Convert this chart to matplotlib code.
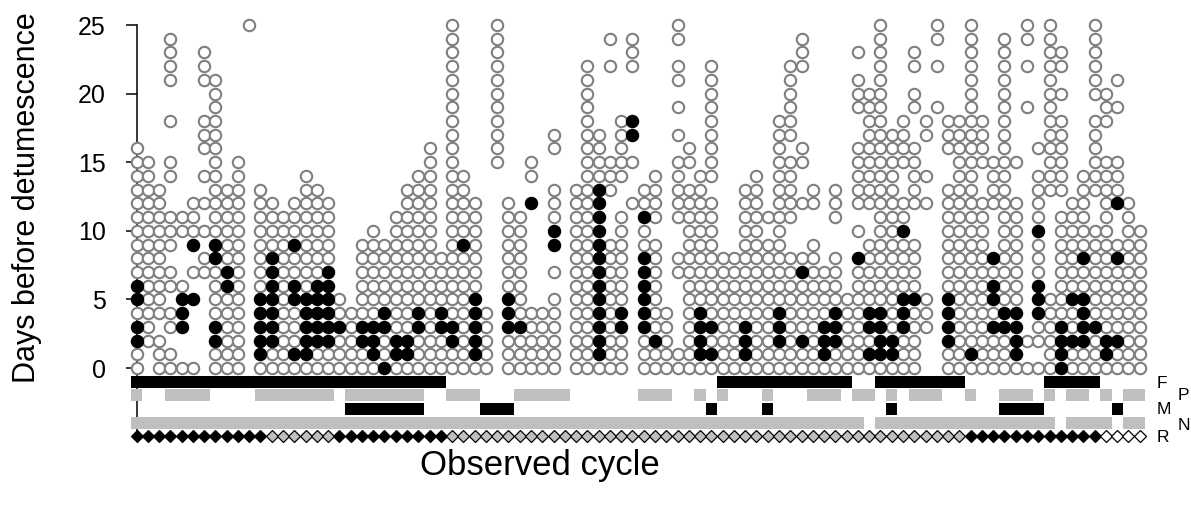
import matplotlib
matplotlib.use("Agg")
import matplotlib.pyplot as plt

plt.rcParams['font.family'] = ['Liberation Sans', 'DejaVu Sans']

# one entry per observed cycle (column), days written as "a-b" runs
grey_days = [
    "0-1,4,7-16", "2-15", "0-2,4-13", "0-1,3-4,6-7,9-11,14-15,18,21-24",
    "0,6,10-11", "0,7,10-12", "7-8,10,12,14,16-18,21-23", "0-1,4-7,10-21",
    "0-5,8-13", "0-15", "25", "0,6-13", "0-1,9-12", "0-11",
    "0,2-4,7-8,10-12", "0,6-14", "0-1,7-13", "0-1,8-12", "0-2,4-5", "0-4",
    "0-1,4-9", "0,4-10", "1-2,5-9", "0,3-11", "0,3-13", "0-2,5-14", "0-16",
    "0-2,5-8", "0-1,4-25", "0-8,10-14", "0,6-12", "0-4", "15-25",
    "0-2,6-12", "0-2,4-11", "0-4,14-15", "0-4", "0-5,7,11-13,16-17", "",
    "0-13", "0-22", "0,14-17", "0-9,13-15,22,24", "0-2,5-11,14-18",
    "12,15,22-24", "0-2,9-10,12-13", "0-1,3-9,11-14", "0-4",
    "0-1,7-8,11-15,17,19,21-22,24-25", "0-13,15-16", "0,5-14",
    "0,2,4-12,14-22", "0-8", "0-8", "0,4-13", "0-14", "0-9,11",
    "0-1,5-18", "0-8,11-15,17-22", "0-1,3-6,8,12,15-16,22-24", "0-9,12-13",
    "0,4-7", "0-1,5-8,11-13", "0-5", "0-7,10,12-16,19-21,23",
    "0,2,5-9,12-20", "0,5-25", "0,3-17", "0-2,6-9,11-12,15-18",
    "0-4,6-9,12-16,19-20,22-23", "3-5,12,14,17-18", "19,22,24-25",
    "0-1,6-13,16-18", "0-18", "0,2-25", "0-12,15-18", "0-2,4,7,12-15",
    "0-2,5-24", "0,5-12,15", "0,2,19,22,24-25", "0,2-3,7-9,11-14,16",
    "0-5,13-25", "4-11,13-18,20,22-23", "0-1,3-4,6-12", "0-1,6-7,9-14",
    "0-2,4-10,13-18,20-25", "0,3-15,18-20", "0-1,3-7,9,13-15,19,21",
    "0-12", "0-10",
]
black_days = [
    "2-3,5-6", "", "", "", "3-5", "5,9", "", "2-3,8-9", "6-7", "", "",
    "1-5", "2-8", "", "1,5-6,9", "1-5", "2-6", "2-7", "3", "", "2-3",
    "1-3", "0,3-4", "1-2", "1-2", "3-4", "", "3-4", "2-3", "9", "1-5", "",
    "", "3-5", "3", "12", "", "9-10", "", "", "", "1-13", "", "3-4",
    "17-18", "3-8,11", "2", "", "", "", "1-4", "1,3", "", "", "1-3", "",
    "", "2-4", "", "2,7", "", "1-3", "2-4", "", "8", "1,3-4", "1-4",
    "1-2", "3-5,10", "5", "", "", "2-5", "", "1", "", "3,5-6,8", "3-4",
    "1-4", "", "4-6,10", "", "0-3", "2,5", "2-5,8", "3", "1-2", "2,8,12",
    "", "",
]

# status rows under the plot, as (first cycle, last cycle) runs
F_runs = [(0, 27), (52, 63), (66, 73), (81, 85)]
P_runs = [(0, 0), (3, 6), (11, 17), (19, 25), (28, 30), (34, 38), (45, 47),
          (50, 50), (52, 52), (56, 56), (60, 62), (64, 65), (67, 67),
          (69, 71), (74, 74), (77, 79), (81, 81), (83, 84), (86, 86), (88, 89)]
M_runs = [(19, 25), (31, 33), (51, 51), (56, 56), (67, 67), (77, 80), (87, 87)]
N_runs = [(0, 64), (66, 81), (83, 86), (88, 89)]
R_black = [(0, 11), (18, 27), (74, 85)]
R_white = [(86, 89)]

y_ticks = [0, 5, 10, 15, 20, 25]


def parse(spec):
    out = []
    for part in spec.split(','):
        part = part.strip()
        if not part:
            continue
        if '-' in part:
            a, b = part.split('-')
            out.extend(range(int(a), int(b) + 1))
        else:
            out.append(int(part))
    return out


W, H = 1191, 515
fig = plt.figure(figsize=(W / 100, H / 100), dpi=100)
x0, x1 = 136.5, 1139.7
y_top, y_bot = 25.0, 436.6
ax = fig.add_axes([x0 / W, 1 - y_bot / H, (x1 - x0) / W, (y_bot - y_top) / H])
n = len(grey_days)
ax.set_xlim(0, n - 1)
ax.set_ylim(-5, 25)

gx, gy, bx, by = [], [], [], []
for i in range(n):
    for d in parse(grey_days[i]):
        gx.append(i)
        gy.append(d)
    for d in parse(black_days[i]):
        bx.append(i)
        by.append(d)

ax.plot(gx, gy, 'o', ms=8.2, mfc='white', mec='#7f7f7f', mew=1.5,
        ls='none', clip_on=False, zorder=3)
ax.plot(bx, by, 'o', ms=8.2, mfc='black', mec='black', mew=1.5,
        ls='none', clip_on=False, zorder=4)


def draw_runs(runs, y, color):
    for a, b in runs:
        ax.barh(y, b - a + 1, left=a - 0.5, height=0.88, color=color,
                lw=0, zorder=5, clip_on=False)


draw_runs(F_runs, -1, 'black')
draw_runs(P_runs, -2, '#bfbfbf')
draw_runs(M_runs, -3, 'black')
draw_runs(N_runs, -4, '#bfbfbf')

# diamonds: grey by default, black / white for marked runs
rcol = ['#bfbfbf'] * n
for a, b in R_black:
    for i in range(a, b + 1):
        rcol[i] = 'black'
for a, b in R_white:
    for i in range(a, b + 1):
        rcol[i] = 'white'
for i in range(n):
    ax.plot(i, -4.95, 'D', ms=6.0, mfc=rcol[i], mec='black', mew=0.9,
            clip_on=False, zorder=6)

for s in ['top', 'right', 'bottom']:
    ax.spines[s].set_visible(False)
ax.spines['left'].set_bounds(-5, 25)
ax.spines['left'].set_linewidth(1.1)
ax.set_yticks(y_ticks)
ax.tick_params(axis='y', length=8, width=1.1, pad=14, labelsize=18)
ax.set_xticks([])

fig.text(27 / W, 1 - 383 / H, 'Days before detumescence', rotation=90,
         ha='center', va='bottom', fontsize=22)
fig.text(540 / W, 1 - 466 / H, 'Observed cycle', ha='center', va='center',
         fontsize=25)

# row labels on the right
for lab, px, py in [('F', 1157, 383), ('P', 1178, 396), ('M', 1157, 410),
                    ('N', 1178, 425), ('R', 1157, 437)]:
    fig.text(px / W, 1 - py / H, lab, ha='left', va='center', fontsize=12.5)

fig.savefig('out.png', dpi=100)
